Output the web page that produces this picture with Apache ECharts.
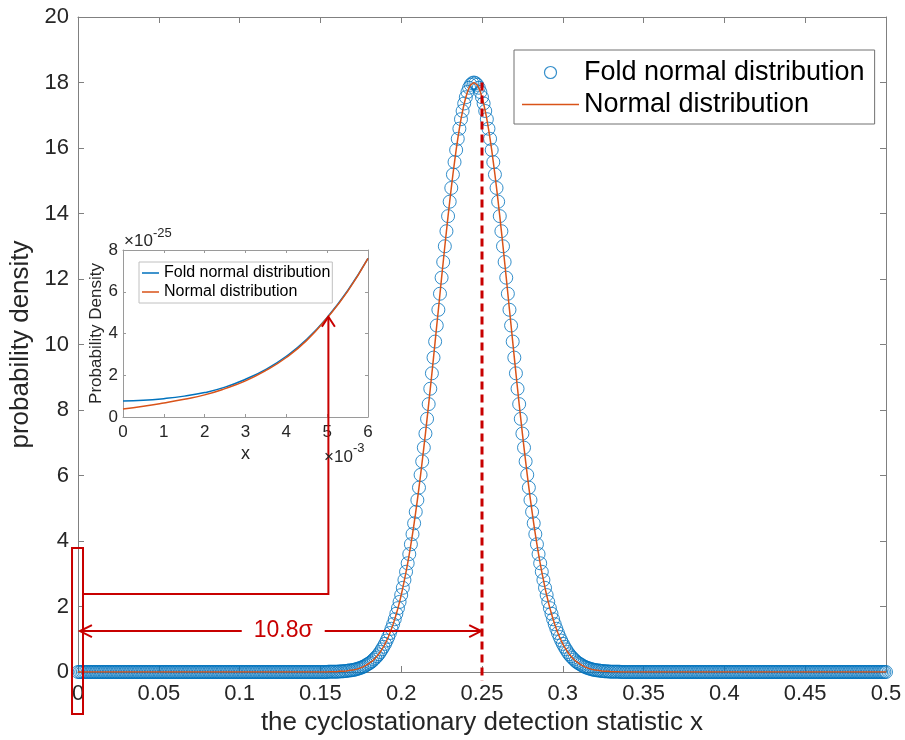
<!DOCTYPE html>
<html>
<head>
<meta charset="utf-8">
<script src="https://cdn.jsdelivr.net/npm/echarts@6/dist/echarts.min.js"></script>
<style>html,body{margin:0;padding:0;background:#fff}#c{width:905px;height:740px}</style>
</head>
<body>
<div id="c"></div>
<script>
// ---------------- data ----------------
// main curve is sampled on a regular grid x = 0, 0.001, ..., 0.5
const xStart = 0;
const xStep = 0.001;
// left tail x = 0 .. 0.154 (155 samples, all ~0 at this scale)
const leftTail = [
0,0,0,0,0,0,0,0,0,0,0,0,0,0,0,0,0,0,0,0,
0,0,0,0,0,0,0,0,0,0,0,0,0,0,0,0,0,0,0,0,
0,0,0,0,0,0,0,0,0,0,0,0,0,0,0,0,0,0,0,0,
0,0,0,0,0,0,0,0,0,0,0,0,0,0,0,0,0,0,0,0,
0,0,0,0,0,0,0,0,0,0,0,0,0,0,0,0,0,0,0,0,
0,0,0,0,0,0,0,0,0,0,0,0,0,0,0,0,0,0,0,0,
0,0,0,0,0,0,0,0,0,0,0,0,0,0,0,0,0,0,0,0,
0,0,0,0,0,0,0,0,0,0,0,0,0,0,0
];
// peak region x = 0.155 .. 0.335 (181 samples)
const peakRegion = [
0.01,0.01,0.01,0.01,0.01,0.01,0.01,0.02,0.02,0.02,
0.03,0.03,0.04,0.05,0.05,0.06,0.07,0.08,0.10,0.11,
0.13,0.15,0.17,0.20,0.23,0.26,0.29,0.33,0.38,0.43,
0.48,0.54,0.61,0.69,0.77,0.86,0.96,1.07,1.19,1.32,
1.46,1.61,1.78,1.95,2.14,2.35,2.57,2.81,3.06,3.32,
3.60,3.90,4.21,4.54,4.89,5.25,5.63,6.02,6.43,6.85,
7.28,7.73,8.18,8.65,9.12,9.60,10.09,10.58,11.06,11.55,
12.04,12.52,13.00,13.46,13.92,14.36,14.78,15.19,15.57,15.94,
16.28,16.59,16.88,17.13,17.36,17.55,17.71,17.84,17.93,17.98,
18.00,
17.98,17.93,17.84,17.71,17.55,17.36,17.13,16.88,16.59,16.28,
15.94,15.57,15.19,14.78,14.36,13.92,13.46,13.00,12.52,12.04,
11.55,11.06,10.58,10.09,9.60,9.12,8.65,8.18,7.73,7.28,
6.85,6.43,6.02,5.63,5.25,4.89,4.54,4.21,3.90,3.60,
3.32,3.06,2.81,2.57,2.35,2.14,1.95,1.78,1.61,1.46,
1.32,1.19,1.07,0.96,0.86,0.77,0.69,0.61,0.54,0.48,
0.43,0.38,0.33,0.29,0.26,0.23,0.20,0.17,0.15,0.13,
0.11,0.10,0.08,0.07,0.06,0.05,0.05,0.04,0.03,0.03,
0.02,0.02,0.02,0.01,0.01,0.01,0.01,0.01,0.01,0.01
];
// right tail x = 0.336 .. 0.5 (165 samples)
const rightTail = [
0,0,0,0,0,0,0,0,0,0,0,0,0,0,0,0,0,0,0,0,
0,0,0,0,0,0,0,0,0,0,0,0,0,0,0,0,0,0,0,0,
0,0,0,0,0,0,0,0,0,0,0,0,0,0,0,0,0,0,0,0,
0,0,0,0,0,0,0,0,0,0,0,0,0,0,0,0,0,0,0,0,
0,0,0,0,0,0,0,0,0,0,0,0,0,0,0,0,0,0,0,0,
0,0,0,0,0,0,0,0,0,0,0,0,0,0,0,0,0,0,0,0,
0,0,0,0,0,0,0,0,0,0,0,0,0,0,0,0,0,0,0,0,
0,0,0,0,0,0,0,0,0,0,0,0,0,0,0,0,0,0,0,0,
0,0,0,0,0
];
// the fold normal and normal pdf coincide at this scale
const foldNormalPdf = leftTail.concat(peakRegion, rightTail);
const normalPdf = leftTail.concat(peakRegion, rightTail);

// inset (x in units of 1e-3, density in units of 1e-25)
const insetX = [0, 0.5, 1, 1.5, 2, 2.5, 3, 3.5, 4, 4.5, 5, 5.5, 6];
const insetFold = [0.77, 0.80, 0.88, 1.00, 1.17, 1.43, 1.81, 2.28, 2.91, 3.72, 4.77, 6.05, 7.60];
const insetNormal = [0.38, 0.51, 0.67, 0.85, 1.06, 1.36, 1.73, 2.23, 2.85, 3.67, 4.75, 6.02, 7.60];

// annotations, in data units
const meanLineX = 0.25;
const meanLineY = [18, -0.27];
const zoomBox = [[-0.0037, 3.79], [0.0031, -1.28]];
const leaderY = 2.38;
const insetTarget = [5.03, 4.8];
const spanY = 1.25;
const spanX = [0.0012, 0.2495];
const spanLabel = '10.8σ';
const spanLabelX = 0.127;

if (foldNormalPdf.length !== 501) throw new Error('bad length ' + foldNormalPdf.length);

// ---------------- chart ----------------
const FONT = '"Liberation Sans", Arial, Helvetica, sans-serif';
const AX = '#808080';
const AXI = '#9a9a9a';
const TXT = '#262626';
const RED = '#C80000';
const BLUE = '#0072BD';
const ORANGE = '#D95319';

// thin horizontal line icons for the legends (invisible hairlines set the box)
const LINE_ICON_MAIN = 'path://M0,0L57,0L57,0.01L0,0.01Z M0,5.25L57,5.25L57,6.75L0,6.75Z M0,11.99L57,11.99L57,12L0,12Z';
const LINE_ICON_INSET = 'path://M0,0L17,0L17,0.01L0,0.01Z M0,4.25L17,4.25L17,5.75L0,5.75Z M0,9.99L17,9.99L17,10L0,10Z';

const mainFold = foldNormalPdf.map((v, i) => [+(xStart + i * xStep).toFixed(3), v]);
const mainNormal = normalPdf.map((v, i) => [+(xStart + i * xStep).toFixed(3), v]);
const inFold = insetX.map((x, i) => [x, insetFold[i]]);
const inNormal = insetX.map((x, i) => [x, insetNormal[i]]);

const chart = echarts.init(document.getElementById('c'), null, {renderer: 'canvas'});

function valAxis(o) {
  return Object.assign({
    type: 'value',
    splitLine: {show: false},
    axisLine: {show: true, onZero: false, lineStyle: {color: AX, width: 1}},
    axisTick: {show: true, inside: true, length: 6, lineStyle: {color: AX}},
    axisLabel: {show: true, color: TXT, fontSize: 22, fontFamily: FONT},
    nameTextStyle: {color: TXT, fontFamily: FONT}
  }, o);
}

const option = {
  animation: false,
  backgroundColor: '#fff',
  textStyle: {fontFamily: FONT},
  grid: [
    {left: 78, right: 19, top: 17, bottom: 68, outerBoundsMode: 'none', containLabel: false},
    {left: 123, right: 537, top: 250, bottom: 323, show: true, backgroundColor: '#fff', borderWidth: 0, outerBoundsMode: 'none', containLabel: false}
  ],
  xAxis: [
    valAxis({gridIndex: 0, position: 'bottom', min: 0, max: 0.5, interval: 0.05,
      axisLabel: {color: TXT, fontSize: 22, fontFamily: FONT, margin: 11},
      name: 'the cyclostationary detection statistic x', nameLocation: 'middle', nameGap: 35,
      nameTextStyle: {color: TXT, fontSize: 26, fontFamily: FONT}}),
    valAxis({gridIndex: 0, position: 'top', min: 0, max: 0.5, interval: 0.05, axisLabel: {show: false}}),
    valAxis({gridIndex: 1, position: 'bottom', min: 0, max: 6, interval: 1,
      axisLine: {show: true, onZero: false, lineStyle: {color: AXI}},
      axisTick: {show: true, inside: true, length: 3, lineStyle: {color: AXI}},
      axisLabel: {color: TXT, fontSize: 17, fontFamily: FONT, margin: 7},
      name: 'x', nameLocation: 'middle', nameGap: 28,
      nameTextStyle: {color: TXT, fontSize: 18, fontFamily: FONT}}),
    valAxis({gridIndex: 1, position: 'top', min: 0, max: 6, interval: 1,
      axisLine: {show: true, onZero: false, lineStyle: {color: AXI}},
      axisTick: {show: true, inside: true, length: 3, lineStyle: {color: AXI}},
      axisLabel: {show: false}})
  ],
  yAxis: [
    valAxis({gridIndex: 0, position: 'left', min: 0, max: 20, interval: 2,
      axisLabel: {color: TXT, fontSize: 22, fontFamily: FONT, margin: 9},
      name: 'probability density', nameLocation: 'middle', nameGap: 34,
      nameTextStyle: {color: TXT, fontSize: 26, fontFamily: FONT}}),
    valAxis({gridIndex: 0, position: 'right', min: 0, max: 20, interval: 2, axisLabel: {show: false}}),
    valAxis({gridIndex: 1, position: 'left', min: 0, max: 8, interval: 2,
      axisLine: {show: true, onZero: false, lineStyle: {color: AXI}},
      axisTick: {show: true, inside: true, length: 3, lineStyle: {color: AXI}},
      axisLabel: {color: TXT, fontSize: 17, fontFamily: FONT, margin: 5},
      name: 'Probability Density', nameLocation: 'middle', nameGap: 16,
      nameTextStyle: {color: TXT, fontSize: 17, fontFamily: FONT}}),
    valAxis({gridIndex: 1, position: 'right', min: 0, max: 8, interval: 2,
      axisLine: {show: true, onZero: false, lineStyle: {color: AXI}},
      axisTick: {show: true, inside: true, length: 3, lineStyle: {color: AXI}},
      axisLabel: {show: false}})
  ],
  legend: [
    {
      orient: 'vertical', left: 514, top: 50,
      itemWidth: 57, itemHeight: 12, itemGap: 5,
      padding: [9, 10, 6, 8],
      borderColor: '#707070', borderWidth: 1, backgroundColor: '#fff',
      selectedMode: false,
      textStyle: {fontSize: 27, color: '#000', fontFamily: FONT},
      data: [
        {name: 'Fold normal distribution', icon: 'circle',
         itemStyle: {color: 'rgba(0,0,0,0)', borderColor: BLUE, borderWidth: 1.2}},
        {name: 'Normal distribution', icon: LINE_ICON_MAIN,
         itemStyle: {color: ORANGE, borderWidth: 0}}
      ]
    },
    {
      orient: 'vertical', left: 139, top: 262,
      itemWidth: 17, itemHeight: 10, itemGap: 3,
      padding: [3, 2, 3, 3],
      borderColor: '#c0c0c0', borderWidth: 1, backgroundColor: '#fff',
      selectedMode: false,
      textStyle: {fontSize: 16, color: '#000', fontFamily: FONT},
      formatter: function (name) { return name.replace(' (inset)', ''); },
      data: [
        {name: 'Fold normal distribution (inset)', icon: LINE_ICON_INSET,
         itemStyle: {color: BLUE, borderWidth: 0}},
        {name: 'Normal distribution (inset)', icon: LINE_ICON_INSET,
         itemStyle: {color: ORANGE, borderWidth: 0}}
      ]
    }
  ],
  series: [
    {
      name: 'Fold normal distribution', type: 'scatter', xAxisIndex: 0, yAxisIndex: 0,
      data: mainFold, symbol: 'circle', symbolSize: 13,
      itemStyle: {color: 'rgba(0,0,0,0)', borderColor: BLUE, borderWidth: 1},
      emphasis: {disabled: true}, silent: true, z: 2, large: false
    },
    {
      name: 'Normal distribution', type: 'line', xAxisIndex: 0, yAxisIndex: 0,
      data: mainNormal, symbol: 'none', showSymbol: false,
      lineStyle: {color: ORANGE, width: 1.5}, itemStyle: {color: ORANGE},
      emphasis: {disabled: true}, silent: true, z: 3
    },
    {
      name: 'Fold normal distribution (inset)', type: 'line', xAxisIndex: 2, yAxisIndex: 2,
      data: inFold, symbol: 'none', showSymbol: false, smooth: true,
      lineStyle: {color: BLUE, width: 1.5}, itemStyle: {color: BLUE},
      emphasis: {disabled: true}, silent: true, z: 4
    },
    {
      name: 'Normal distribution (inset)', type: 'line', xAxisIndex: 2, yAxisIndex: 2,
      data: inNormal, symbol: 'none', showSymbol: false, smooth: true,
      lineStyle: {color: ORANGE, width: 1.5}, itemStyle: {color: ORANGE},
      emphasis: {disabled: true}, silent: true, z: 5
    }
  ]
};
chart.setOption(option);

// ---------------- annotations placed through the axes' scales ----------------
const pm = (x, y) => chart.convertToPixel({xAxisIndex: 0, yAxisIndex: 0}, [x, y]);
const pi = (x, y) => chart.convertToPixel({xAxisIndex: 2, yAxisIndex: 2}, [x, y]);

function head(tip, dx, dy, len, half) {
  // open V arrow head pointing along (dx,dy)
  const px = -dy, py = dx;
  return [
    [tip[0] - dx * len + px * half, tip[1] - dy * len + py * half],
    [tip[0], tip[1]],
    [tip[0] - dx * len - px * half, tip[1] - dy * len - py * half]
  ];
}

const g = [];
const lineStyle = {stroke: RED, lineWidth: 2, fill: null};

// dashed mean line
const mt = pm(meanLineX, meanLineY[0]), mb = pm(meanLineX, meanLineY[1]);
g.push({type: 'line', z: 100, shape: {x1: mt[0], y1: mt[1], x2: mb[0], y2: mb[1]},
  style: {stroke: RED, lineWidth: 3, lineDash: [8, 5]}});

// box around x = 0
const b1 = pm(zoomBox[0][0], zoomBox[0][1]), b2 = pm(zoomBox[1][0], zoomBox[1][1]);
g.push({type: 'rect', z: 100, shape: {x: b1[0], y: b1[1], width: b2[0] - b1[0], height: b2[1] - b1[1]},
  style: {stroke: RED, lineWidth: 2, fill: null}});

// leader from box to inset
const t = pi(insetTarget[0], insetTarget[1]);
const s = pm(zoomBox[1][0], leaderY);
g.push({type: 'polyline', z: 100, shape: {points: [[s[0], s[1]], [t[0], s[1]], [t[0], t[1]]]}, style: lineStyle});
g.push({type: 'polyline', z: 100, shape: {points: head(t, 0, -1, 10, 6.5)}, style: lineStyle});

// 10.8 sigma span
const a1 = pm(spanX[0], spanY), a2 = pm(spanX[1], spanY);
g.push({type: 'line', z: 100, shape: {x1: a1[0], y1: a1[1], x2: a2[0], y2: a2[1]}, style: lineStyle});
g.push({type: 'polyline', z: 100, shape: {points: head(a1, -1, 0, 12, 6)}, style: lineStyle});
g.push({type: 'polyline', z: 100, shape: {points: head(a2, 1, 0, 12, 6)}, style: lineStyle});
const lp = pm(spanLabelX, spanY);
g.push({type: 'text', z: 101, x: lp[0], y: lp[1],
  style: {text: spanLabel, fill: RED, font: '23px ' + FONT, align: 'center', verticalAlign: 'middle',
    backgroundColor: '#fff', padding: [2, 12]}});

// exponent labels of the inset
const e1 = pi(0, 8);
g.push({type: 'text', z: 101, x: e1[0] + 1, y: e1[1] - 9,
  style: {text: '×10', fill: TXT, font: '17px ' + FONT, align: 'left', verticalAlign: 'middle'}});
g.push({type: 'text', z: 101, x: e1[0] + 30, y: e1[1] - 17,
  style: {text: '-25', fill: TXT, font: '13px ' + FONT, align: 'left', verticalAlign: 'middle'}});
const e2 = pi(6, 0);
g.push({type: 'text', z: 101, x: e2[0] - 44, y: e2[1] + 40,
  style: {text: '×10', fill: TXT, font: '17px ' + FONT, align: 'left', verticalAlign: 'middle'}});
g.push({type: 'text', z: 101, x: e2[0] - 15, y: e2[1] + 31,
  style: {text: '-3', fill: TXT, font: '13px ' + FONT, align: 'left', verticalAlign: 'middle'}});

chart.setOption({graphic: g});
</script>
</body>
</html>
